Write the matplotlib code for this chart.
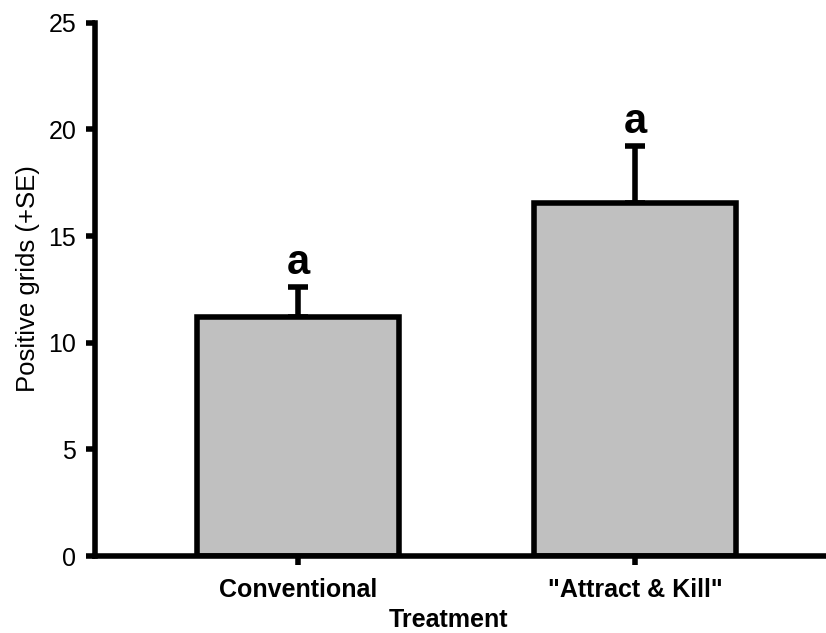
import numpy as np
import matplotlib
matplotlib.use("Agg")
import matplotlib.pyplot as plt

plt.rcParams['font.family'] = ['Liberation Sans', 'DejaVu Sans']

# mean positive grids per treatment and the upper standard error
treatments = ['Conventional', '"Attract & Kill"']
means = [11.19, 16.53]
se = [1.43, 2.71]
letters = ['a', 'a']

fig = plt.figure(figsize=(8.26, 6.33), dpi=100)
ax = fig.add_axes([0.115, 0.1216, 0.885, 0.8424])

x = np.arange(len(treatments))
ax.bar(x, means, width=0.6, color='#c0c0c0', edgecolor='black', linewidth=4, zorder=2)
ax.errorbar(x, means, yerr=[np.zeros(len(se)), se], fmt='none', ecolor='black',
            elinewidth=4, capsize=7.5, capthick=4, zorder=1)

for xi, m, s, l in zip(x, means, se, letters):
    ax.text(xi, m + s + 0.6, l, ha='center', va='baseline',
            fontsize=30, fontweight='bold')

ax.set_xlim(-0.602, 1.567)
ax.set_ylim(0, 25)
ax.set_yticks([0, 5, 10, 15, 20, 25])
ax.set_xticks(x)
ax.set_xticklabels(treatments, fontsize=18, fontweight='bold')
ax.tick_params(axis='y', labelsize=18, length=6.5, width=4, pad=7, direction='out')
ax.tick_params(axis='x', length=6.5, width=4, pad=9, direction='out')

for side in ['top', 'right']:
    ax.spines[side].set_visible(False)
for side in ['left', 'bottom']:
    ax.spines[side].set_linewidth(4)
    ax.spines[side].set_capstyle('projecting')

ax.set_ylabel('Positive grids (+SE)', fontsize=18.5, va='center')
ax.yaxis.set_label_coords(-0.0917, 0.521)
ax.set_xlabel('Treatment', fontsize=18, fontweight='bold', va='center')
ax.xaxis.set_label_coords(0.484, -0.12)

fig.savefig('out.png', dpi=100)
